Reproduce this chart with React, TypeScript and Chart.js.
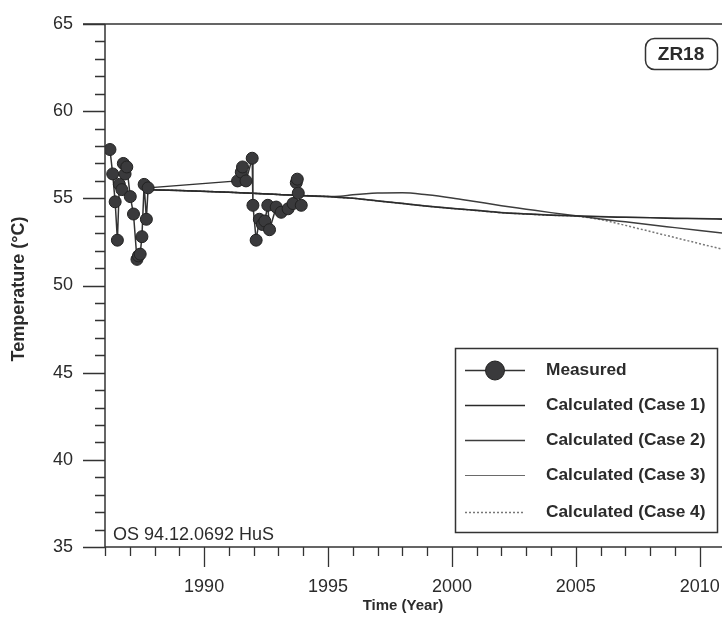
import React, { useEffect, useRef } from 'react';
import { Chart, registerables } from 'chart.js';

Chart.register(...registerables);

// Measured well-head temperatures (year, °C)
const measuredYears = [
  1986.2, 1986.31, 1986.41, 1986.5, 1986.58, 1986.68, 1986.74, 1986.81, 1986.88,
  1987.02, 1987.15, 1987.29, 1987.35, 1987.42, 1987.49, 1987.58, 1987.67, 1987.74,
  1991.35, 1991.5, 1991.55, 1991.69, 1991.94, 1991.97, 1992.1, 1992.23, 1992.35,
  1992.45, 1992.57, 1992.64, 1992.91, 1993.11, 1993.39, 1993.59, 1993.72, 1993.76,
  1993.8, 1993.92,
];
const measuredTemps = [
  57.8, 56.4, 54.8, 52.6, 55.8, 55.5, 57.0, 56.4, 56.8,
  55.1, 54.1, 51.5, 51.7, 51.8, 52.8, 55.8, 53.8, 55.6,
  56.0, 56.5, 56.8, 56.0, 57.3, 54.6, 52.6, 53.8, 53.5,
  53.7, 54.6, 53.2, 54.5, 54.2, 54.4, 54.7, 55.9, 56.1,
  55.3, 54.6,
];

// Simulated temperatures for the four cases
const calcYears = [
  1987.7, 1989, 1991, 1993, 1995, 1995.5, 1996, 1997, 1998, 1999, 2000,
  2001, 2002, 2003, 2004, 2005, 2006, 2007, 2008, 2009, 2010, 2011,
];
const case1Temps = [
  55.5, 55.45, 55.35, 55.22, 55.1, 55.05, 55.0, 54.85, 54.7, 54.55, 54.42,
  54.3, 54.18, 54.1, 54.03, 53.98, 53.94, 53.91, 53.88, 53.85, 53.83, 53.8,
];
const case2Temps = [
  55.5, 55.45, 55.35, 55.22, 55.1, 55.12, 55.2, 55.3, 55.32, 55.2, 55.02,
  54.8, 54.58, 54.38, 54.18, 54.0, 53.82, 53.65, 53.48, 53.32, 53.16, 53.0,
];
const case3Temps = [
  55.5, 55.45, 55.35, 55.22, 55.1, 55.06, 55.01, 54.87, 54.72, 54.57, 54.44,
  54.32, 54.2, 54.12, 54.05, 54.0, 53.96, 53.93, 53.9, 53.87, 53.85, 53.83,
];
const case4Temps = [
  55.5, 55.45, 55.35, 55.22, 55.1, 55.05, 55.0, 54.85, 54.7, 54.55, 54.42,
  54.3, 54.18, 54.1, 54.03, 53.98, 53.78, 53.45, 53.1, 52.75, 52.4, 52.05,
];

const seriesLabels = [
  'Measured',
  'Calculated (Case 1)',
  'Calculated (Case 2)',
  'Calculated (Case 3)',
  'Calculated (Case 4)',
];

const xTickValues = [1990, 1995, 2000, 2005, 2010];
const yTickValues = [35, 40, 45, 50, 55, 60, 65];
const xRange = [1986, 2010.9];
const yRange = [35, 65];

const xTitle = 'Time (Year)';
const yTitle = 'Temperature (°C)';
const wellName = 'ZR18';
const stampText = 'OS 94.12.0692 HuS';

const FONT = '"Liberation Sans", Arial, Helvetica, sans-serif';
const INK = '#2b2b2b';
const AXIS = '#333333';

const toPoints = (xs: number[], ys: number[]) => xs.map((x, i) => ({ x, y: ys[i] }));

const zeroPadding = (s: any) => {
  s.paddingLeft = 0;
  s.paddingRight = 0;
  s.paddingTop = 0;
  s.paddingBottom = 0;
};

const decorations = {
  id: 'decorations',
  afterDraw(chart: any) {
    const ctx: CanvasRenderingContext2D = chart.ctx;
    const xs = chart.scales.x;
    const ys = chart.scales.y;
    const { left, right, top, bottom } = chart.chartArea;
    ctx.save();

    // axes frame
    ctx.strokeStyle = AXIS;
    ctx.lineWidth = 1.5;
    ctx.beginPath();
    ctx.moveTo(left, top);
    ctx.lineTo(left, bottom);
    ctx.moveTo(left - 22, top);
    ctx.lineTo(right, top);
    ctx.moveTo(left, bottom);
    ctx.lineTo(right, bottom);
    ctx.stroke();

    // y ticks: every degree, long at labelled values
    ctx.lineWidth = 1.3;
    ctx.beginPath();
    for (let v = yRange[0]; v <= yRange[1]; v++) {
      const y = Math.round(ys.getPixelForValue(v)) + 0.5;
      const len = yTickValues.includes(v) ? 22 : 10;
      ctx.moveTo(left - len, y);
      ctx.lineTo(left, y);
    }
    // x ticks: every year, long at labelled years
    for (let yr = Math.ceil(xRange[0]); yr <= xRange[1]; yr++) {
      const x = Math.round(xs.getPixelForValue(yr)) + 0.5;
      const len = xTickValues.includes(yr) ? 20 : 9;
      ctx.moveTo(x, bottom);
      ctx.lineTo(x, bottom + len);
    }
    ctx.stroke();

    ctx.fillStyle = INK;

    // axis titles
    ctx.font = `bold 18px ${FONT}`;
    ctx.textAlign = 'center';
    ctx.textBaseline = 'middle';
    ctx.save();
    ctx.translate(19, 289);
    ctx.rotate(-Math.PI / 2);
    ctx.fillText(yTitle, 0, 0);
    ctx.restore();

    ctx.font = `bold 15px ${FONT}`;
    ctx.fillText(xTitle, 403, 606);

    // run stamp
    ctx.font = `18px ${FONT}`;
    ctx.textAlign = 'left';
    ctx.fillText(stampText, 113, 535);

    // well label
    ctx.lineWidth = 1.5;
    ctx.strokeStyle = AXIS;
    ctx.beginPath();
    ctx.roundRect(645.5, 38.5, 72, 31, 9);
    ctx.fillStyle = '#ffffff';
    ctx.fill();
    ctx.stroke();
    ctx.fillStyle = INK;
    ctx.font = `bold 19px ${FONT}`;
    ctx.textAlign = 'center';
    ctx.fillText(wellName, 681, 54.5);

    // legend
    ctx.beginPath();
    ctx.rect(455.5, 348.5, 262, 184);
    ctx.fillStyle = '#ffffff';
    ctx.fill();
    ctx.stroke();
    const rowY = [370, 405, 440, 475, 512];
    chart.data.datasets.forEach((ds: any, i: number) => {
      const y = rowY[i] + 0.5;
      ctx.save();
      ctx.strokeStyle = ds.borderColor;
      ctx.lineWidth = ds.borderWidth;
      ctx.setLineDash(ds.borderDash || []);
      ctx.beginPath();
      ctx.moveTo(465, y);
      ctx.lineTo(525, y);
      ctx.stroke();
      ctx.restore();
      if (ds.pointRadius > 0) {
        ctx.beginPath();
        ctx.arc(495, y, 9.5, 0, Math.PI * 2);
        ctx.fillStyle = ds.pointBackgroundColor;
        ctx.fill();
        ctx.lineWidth = 1;
        ctx.strokeStyle = ds.pointBorderColor;
        ctx.stroke();
      }
      ctx.fillStyle = INK;
      ctx.font = `bold 17.3px ${FONT}`;
      ctx.textAlign = 'left';
      ctx.textBaseline = 'middle';
      ctx.fillText(ds.label, 546, y);
    });

    ctx.restore();
  },
};

export default function App() {
  const canvasRef = useRef<HTMLCanvasElement | null>(null);

  useEffect(() => {
    const canvas = canvasRef.current;
    if (!canvas) return;

    const calcStyle = (color: string, width: number, dash: number[] = []) => ({
      showLine: true,
      borderColor: color,
      backgroundColor: color,
      borderWidth: width,
      borderDash: dash,
      pointRadius: 0,
      pointHoverRadius: 0,
      cubicInterpolationMode: 'monotone' as const,
    });

    const chart = new Chart(canvas, {
      type: 'scatter',
      data: {
        datasets: [
          {
            label: seriesLabels[0],
            data: toPoints(measuredYears, measuredTemps),
            showLine: true,
            borderColor: '#333333',
            borderWidth: 1.5,
            pointRadius: 6,
            pointHoverRadius: 6,
            pointBackgroundColor: '#3a3a3c',
            pointBorderColor: '#222222',
            pointBorderWidth: 1,
          },
          { label: seriesLabels[1], data: toPoints(calcYears, case1Temps), ...calcStyle('#2a2a2a', 1.5) },
          { label: seriesLabels[2], data: toPoints(calcYears, case2Temps), ...calcStyle('#3d3d3d', 1.5) },
          { label: seriesLabels[3], data: toPoints(calcYears, case3Temps), ...calcStyle('#6a6a6a', 1.2) },
          { label: seriesLabels[4], data: toPoints(calcYears, case4Temps), ...calcStyle('#777777', 1.5, [2, 2]) },
        ],
      },
      options: {
        responsive: false,
        animation: false,
        events: [],
        layout: { autoPadding: false, padding: { top: 24, right: 0, bottom: 0, left: 0 } },
        plugins: {
          legend: { display: false },
          tooltip: { enabled: false },
          title: { display: false },
        },
        scales: {
          x: {
            type: 'linear',
            min: xRange[0],
            max: xRange[1],
            grid: { display: false, drawTicks: false },
            border: { display: false },
            afterBuildTicks: (s: any) => {
              s.ticks = xTickValues.map((v) => ({ value: v }));
            },
            afterFit: (s: any) => {
              s.height = 71;
              zeroPadding(s);
            },
            ticks: {
              callback: (v: any) => String(v),
              color: INK,
              padding: 29,
              maxRotation: 0,
              autoSkip: false,
              font: { family: FONT, size: 18 },
            },
          },
          y: {
            type: 'linear',
            min: yRange[0],
            max: yRange[1],
            grid: { display: false, drawTicks: false },
            border: { display: false },
            afterBuildTicks: (s: any) => {
              s.ticks = yTickValues.map((v) => ({ value: v }));
            },
            afterFit: (s: any) => {
              s.width = 105;
              zeroPadding(s);
            },
            ticks: {
              callback: (v: any) => String(v),
              color: INK,
              padding: 32,
              autoSkip: false,
              font: { family: FONT, size: 18 },
            },
          },
        },
      },
      plugins: [decorations],
    });

    return () => chart.destroy();
  }, []);

  return (
    <div style={{ position: 'absolute', left: 0, top: 0, width: 722, height: 618, background: '#ffffff' }}>
      <canvas ref={canvasRef} width={722} height={618} style={{ display: 'block' }} />
    </div>
  );
}
